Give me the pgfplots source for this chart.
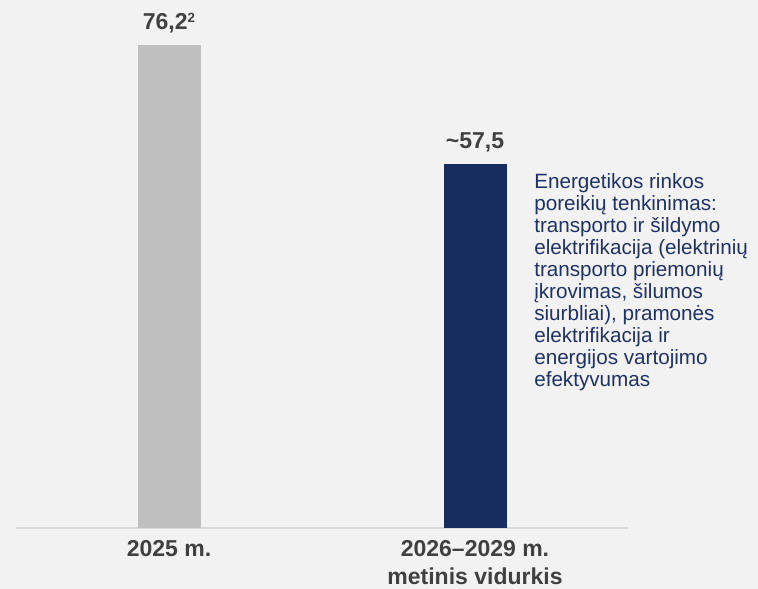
\documentclass[border=0pt]{standalone}
\usepackage{pgfplots}
\pgfplotsset{compat=1.18}
\usepackage{fontspec}
\setmainfont{Liberation Sans}

\definecolor{bgc}{HTML}{F2F2F2}
\definecolor{barGrey}{HTML}{BFBFBF}
\definecolor{barNavy}{HTML}{172C5F}
\definecolor{labelGrey}{HTML}{404040}
\definecolor{noteNavy}{HTML}{1F3264}
\definecolor{baseLine}{HTML}{D9D9D9}

\begin{document}
\begin{tikzpicture}
	% background, same size as the reference (1px = 0.75pt)
	\fill[bgc] (-12pt,-45.75pt) rectangle (556.5pt,396pt);
	\begin{axis}[
	at={(0,0)}, anchor=south west,
	scale only axis,
	width=459pt, height=380.25pt,
	xmin=-0.5, xmax=1.5,
	ymin=0, ymax=80,
	axis y line=none,
	axis x line=bottom,
	axis line style={draw=baseLine, line width=1.5pt, -},
	xtick={0,1},
	xticklabels={2025 m., {2026--2029 m.\\metinis vidurkis}},
	major tick length=0pt,
	xticklabel style={align=center, text=labelGrey,
		font=\bfseries\fontsize{17.25}{21}\selectfont, yshift=-5.75pt},
	bar width=47.25pt,
	bar shift=0pt,
	nodes near coords,
	point meta=explicit symbolic,
	every node near coord/.append style={anchor=base, yshift=11.5pt,
		text=labelGrey, font=\bfseries\fontsize{17.25}{21}\selectfont},
	clip=false,
	]
	\addplot[ybar, fill=barGrey, draw=none]
	coordinates {
		(0,76.2) [{76,2\raisebox{5.5pt}{\fontsize{10}{10}\selectfont 2}}]
	};
	\addplot[ybar, fill=barNavy, draw=none]
	coordinates {
		(1,57.5) [{\textasciitilde57,5}]
	};
	\end{axis}
	\node[anchor=north west, inner sep=0pt, align=left, text=noteNavy,
		font=\fontsize{15.5}{16.5}\selectfont] at (388.5pt,266pt)
		{Energetikos rinkos\\
		poreikių tenkinimas:\\
		transporto ir šildymo\\
		elektrifikacija (elektrinių\\
		transporto priemonių\\
		įkrovimas, šilumos\\
		siurbliai), pramonės\\
		elektrifikacija ir\\
		energijos vartojimo\\
		efektyvumas};
	\pgfresetboundingbox
	\useasboundingbox (-12pt,-45.75pt) rectangle (556.5pt,396pt);
\end{tikzpicture}
\end{document}
